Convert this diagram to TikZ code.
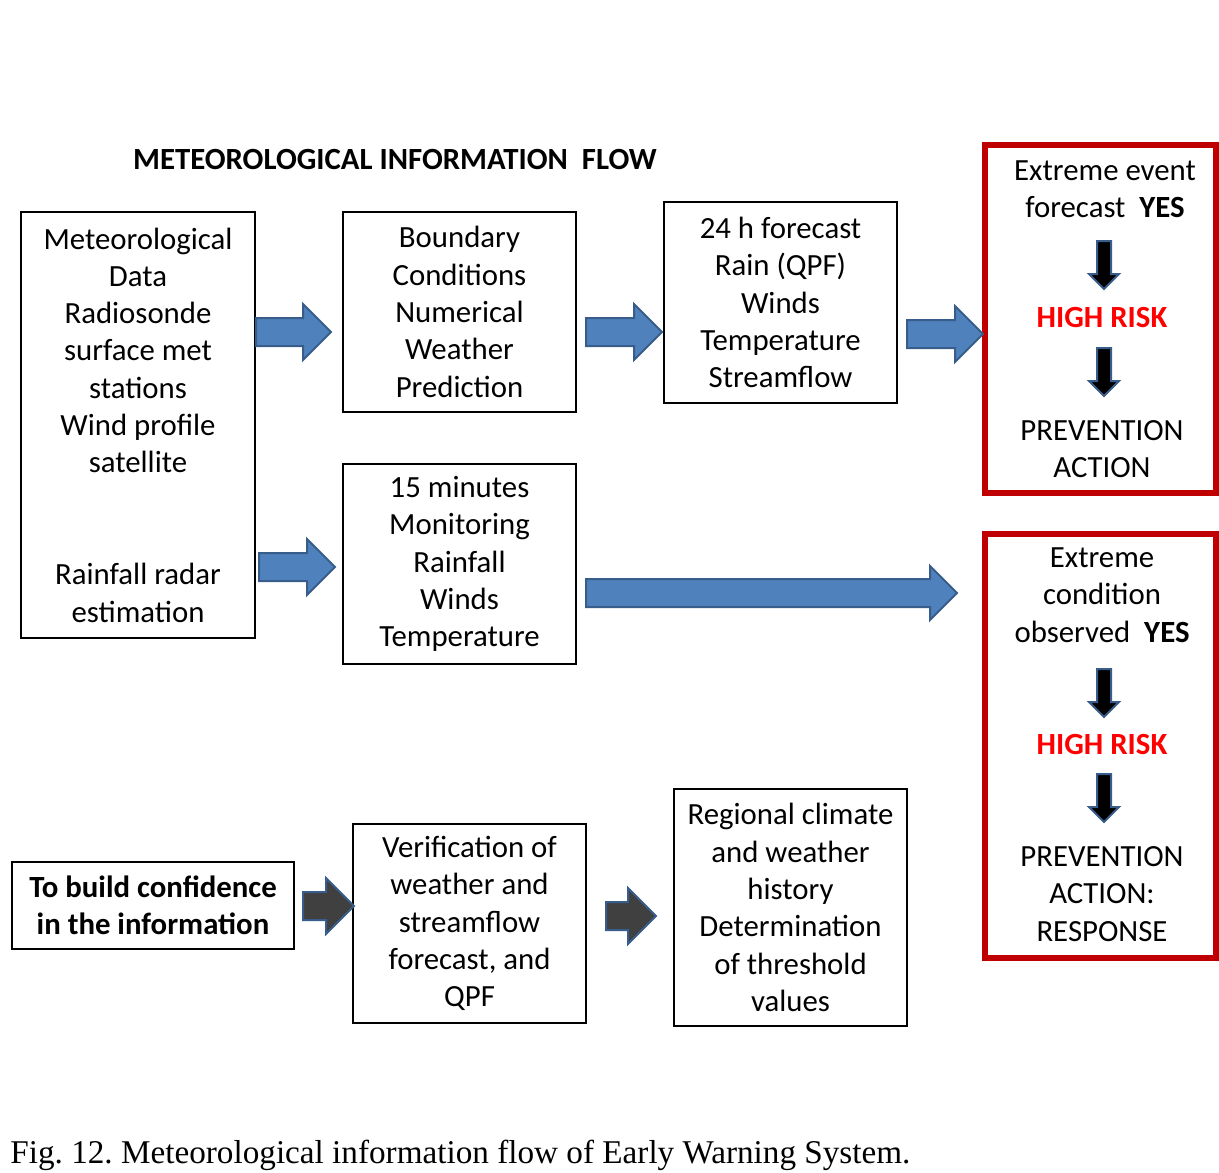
\documentclass[tikz,border=0pt]{standalone}
\usepackage{fontspec}
\setmainfont{Carlito}
\newfontfamily\capfont{Liberation Serif}
\usetikzlibrary{shapes.arrows}

\definecolor{arrowblue}{HTML}{4F81BD}
\definecolor{arrowedge}{HTML}{385D8A}
\definecolor{arrowdark}{HTML}{404040}
\definecolor{riskred}{HTML}{C00000}
\definecolor{hotred}{HTML}{FF0000}

\tikzset{
  infobox/.style={draw, line width=0.75pt, align=center, inner sep=0pt,
    font=\fontsize{15.4}{18.65}\selectfont},
  riskbox/.style={draw=riskred, line width=3pt, inner sep=0pt},
  risktext/.style={align=center, inner sep=0pt, font=\fontsize{15.4}{18.65}\selectfont},
  blockarr/.style={single arrow, draw=arrowedge, fill=arrowblue, line width=1pt, anchor=tail,
    inner xsep=0pt, inner ysep=6.5pt, single arrow head extend=7pt},
  darkarr/.style={blockarr, fill=arrowdark},
  downarr/.style={single arrow, draw=arrowedge, fill=black, line width=1pt, rotate=-90, anchor=tail,
    inner xsep=0pt, inner ysep=3pt, single arrow head extend=4pt, minimum height=24pt}
}

\begin{document}
\begin{tikzpicture}[x=0.5pt,y=-0.5pt]
  \useasboundingbox (0,0) rectangle (1219,1172);

  \node[font=\fontsize{15.4}{18}\selectfont\bfseries] (title) at (395,160)
    {METEOROLOGICAL INFORMATION\ \ FLOW};

  % input data and models
  \node[infobox, minimum width=117pt, minimum height=213pt] (met) at (138,425)
    {Meteorological\\Data\\Radiosonde\\surface met\\stations\\Wind profile\\satellite\\~\\~\\Rainfall radar\\estimation};
  \node[infobox, minimum width=116.5pt, minimum height=100pt] (bc) at (459.5,312)
    {Boundary\\Conditions\\Numerical\\Weather\\Prediction};
  \node[infobox, minimum width=116.5pt, minimum height=100.5pt] (fc) at (780.5,302.5)
    {24 h forecast\\Rain (QPF)\\Winds\\Temperature\\Streamflow};
  \node[infobox, minimum width=116.5pt, minimum height=100pt] (mon) at (459.5,564)
    {15 minutes\\Monitoring\\Rainfall\\Winds\\Temperature};

  % risk boxes
  \node[riskbox, minimum width=115.5pt, minimum height=174pt] (risk1) at (1100.5,319) {};
  \node[risktext] (yes1) at (1105,189) {Extreme event\\forecast\ \ \textbf{YES}};
  \node[risktext, font=\fontsize{15.4}{18.65}\selectfont\bfseries, text=hotred] (high1) at (1102,318) {HIGH RISK};
  \node[risktext] (act1) at (1102,449) {PREVENTION\\ACTION};
  \node[downarr] (d1) at (1104,240) {};
  \node[downarr] (d2) at (1104,347) {};

  \node[riskbox, minimum width=115.5pt, minimum height=212pt] (risk2) at (1100.5,746) {};
  \node[risktext] (yes2) at (1102,595) {Extreme\\condition\\observed\ \ \textbf{YES}};
  \node[risktext, font=\fontsize{15.4}{18.65}\selectfont\bfseries, text=hotred] (high2) at (1102,744) {HIGH RISK};
  \node[risktext] (act2) at (1102,894) {PREVENTION\\ACTION:\\RESPONSE};
  \node[downarr] (d3) at (1104,668) {};
  \node[downarr] (d4) at (1104,773) {};

  % verification
  \node[infobox, minimum width=141pt, minimum height=43.5pt, font=\fontsize{15.4}{18.65}\selectfont\bfseries]
    (conf) at (153,905.5) {To build confidence\\in the information};
  \node[infobox, minimum width=116.5pt, minimum height=99.5pt] (ver) at (469.5,923.5)
    {Verification of\\weather and\\streamflow\\forecast, and\\QPF};
  \node[infobox, minimum width=116.5pt, minimum height=118.5pt] (reg) at (790.5,907.5)
    {Regional climate\\and weather\\history\\Determination\\of threshold\\values};

  % block arrows
  \node[blockarr, minimum height=37.5pt] (a1) at (255,332) {};
  \node[blockarr, minimum height=38pt] (a2) at (585,332) {};
  \node[blockarr, minimum height=38pt] (a3) at (906,334) {};
  \node[blockarr, minimum height=38pt] (a4) at (258,567) {};
  \node[blockarr, minimum height=185.5pt, single arrow head extend=6.5pt] (a5) at (585,593) {};
  \node[darkarr, minimum height=25.5pt] (a6) at (302,906) {};
  \node[darkarr, minimum height=25pt] (a7) at (605,916) {};

  \node[anchor=base west, inner sep=0pt, font=\capfont\fontsize{16.6}{19}\selectfont] (cap) at (10,1163)
    {\frenchspacing Fig. 12. Meteorological information flow of Early Warning System.};
\end{tikzpicture}
\end{document}
